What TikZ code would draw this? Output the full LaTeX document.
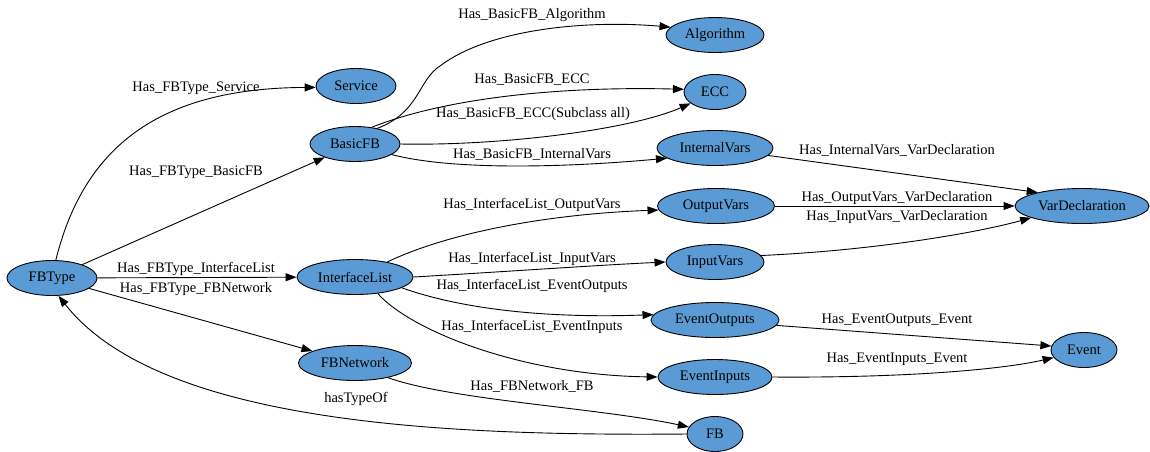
\documentclass[tikz,border=0pt]{standalone}
\usepackage{fontspec}
\setmainfont{Liberation Serif}
\newfontfamily\graphfont{Liberation Serif}
\usetikzlibrary{shapes.geometric, arrows.meta}
\definecolor{nodeblue}{RGB}{91,155,213}
\tikzset{
    entity/.style={ellipse, draw=black, fill=nodeblue, line width=0.9pt,
                   minimum height=35pt, inner sep=0pt,
                   font=\graphfont\fontsize{14.5}{17}\selectfont},
    rel/.style={-{Triangle[length=11pt,width=8pt]}, draw=black, line width=0.9pt},
    edgelbl/.style={font=\graphfont\fontsize{14.5}{17}\selectfont, inner sep=1pt},
}

\begin{document}
\begin{tikzpicture}[x=1pt, y=-1pt]
    \useasboundingbox (0,0) rectangle (1150,451);
    % classes
    \node[entity, minimum width=90pt] (fbtype) at (52,278) {FBType};
    \node[entity, minimum width=80pt] (service) at (356,86) {Service};
    \node[entity, minimum width=90pt] (basicfb) at (355,144) {BasicFB};
    \node[entity, minimum width=116pt] (iflist) at (355,277) {InterfaceList};
    \node[entity, minimum width=113pt] (fbnet) at (355,363) {FBNetwork};
    \node[entity, minimum width=98pt] (algo) at (715,35) {Algorithm};
    \node[entity, minimum width=62pt] (ecc) at (715,92) {ECC};
    \node[entity, minimum width=116pt] (intvars) at (715,148) {InternalVars};
    \node[entity, minimum width=117pt] (outvars) at (716,206) {OutputVars};
    \node[entity, minimum width=98pt] (invars) at (715,262) {InputVars};
    \node[entity, minimum width=128pt] (evout) at (715,320) {EventOutputs};
    \node[entity, minimum width=114pt] (evin) at (715,377) {EventInputs};
    \node[entity, minimum width=56pt] (fb) at (715,434) {FB};
    \node[entity, minimum width=134pt] (vardecl) at (1082,206) {VarDeclaration};
    \node[entity, minimum width=66pt] (event) at (1084,350) {Event};

    % relations from FBType
    \draw[rel] (fbtype.78) .. controls (82,155) and (150,88) .. (service.182);
    \draw[rel] (fbtype) -- (basicfb);
    \draw[rel] (fbtype) -- (iflist);
    \draw[rel] (fbtype) -- (fbnet);
    \draw[rel] (fb.west) .. controls (450,436) and (160,425) .. (fbtype.290);

    % relations from BasicFB
    \draw[rel] (basicfb.35) .. controls (420,112) and (418,80) .. (440,66)
        .. controls (490,28) and (590,20) .. (algo.170);
    \draw[rel] (basicfb.45) .. controls (440,100) and (550,86) .. (ecc.175);
    \draw[rel] (basicfb.east) .. controls (500,146) and (630,130) .. (ecc.205);
    \draw[rel] (basicfb.-16) .. controls (450,170) and (560,168) .. (intvars.192);

    % relations from InterfaceList
    \draw[rel] (iflist.25) .. controls (450,232) and (550,214) .. (outvars.184);
    \draw[rel] (iflist.east) .. controls (500,272) and (600,265) .. (invars.west);
    \draw[rel] (iflist.-13) .. controls (470,312) and (560,318) .. (evout.175);
    \draw[rel] (iflist.-36) .. controls (410,330) and (520,375) .. (evin.west);

    % relations from FBNetwork
    \draw[rel] (fbnet.-24) .. controls (450,400) and (600,408) .. (fb.165);

    % relations to VarDeclaration and Event
    \draw[rel] (intvars.-8) -- (vardecl.163);
    \draw[rel] (outvars) -- (vardecl);
    \draw[rel] (invars.8) .. controls (880,250) and (980,232) .. (vardecl.193);
    \draw[rel] (evout.-5) -- (event.173);
    \draw[rel] (evin.east) .. controls (900,378) and (1000,370) .. (event.194);

    % labels
    \node[edgelbl] (l1) at (196,88) {Has\_FBType\_Service};
    \node[edgelbl] (l2) at (196,172) {Has\_FBType\_BasicFB};
    \node[edgelbl] (l3) at (196,269) {Has\_FBType\_InterfaceList};
    \node[edgelbl] (l4) at (196,289) {Has\_FBType\_FBNetwork};
    \node[edgelbl] (l5) at (356,399) {hasTypeOf};
    \node[edgelbl] (l6) at (532,15) {Has\_BasicFB\_Algorithm};
    \node[edgelbl] (l7) at (532,80) {Has\_BasicFB\_ECC};
    \node[edgelbl] (l8) at (533,114) {Has\_BasicFB\_ECC(Subclass all)};
    \node[edgelbl] (l9) at (532,154) {Has\_BasicFB\_InternalVars};
    \node[edgelbl] (l10) at (532,205) {Has\_InterfaceList\_OutputVars};
    \node[edgelbl] (l11) at (532,259) {Has\_InterfaceList\_InputVars};
    \node[edgelbl] (l12) at (532,286) {Has\_InterfaceList\_EventOutputs};
    \node[edgelbl] (l13) at (532,327) {Has\_InterfaceList\_EventInputs};
    \node[edgelbl] (l14) at (532,386) {Has\_FBNetwork\_FB};
    \node[edgelbl] (l15) at (897,150) {Has\_InternalVars\_VarDeclaration};
    \node[edgelbl] (l16) at (897,198) {Has\_OutputVars\_VarDeclaration};
    \node[edgelbl] (l17) at (897,217) {Has\_InputVars\_VarDeclaration};
    \node[edgelbl] (l18) at (897,320) {Has\_EventOutputs\_Event};
    \node[edgelbl] (l19) at (897,359) {Has\_EventInputs\_Event};
\end{tikzpicture}
\end{document}
